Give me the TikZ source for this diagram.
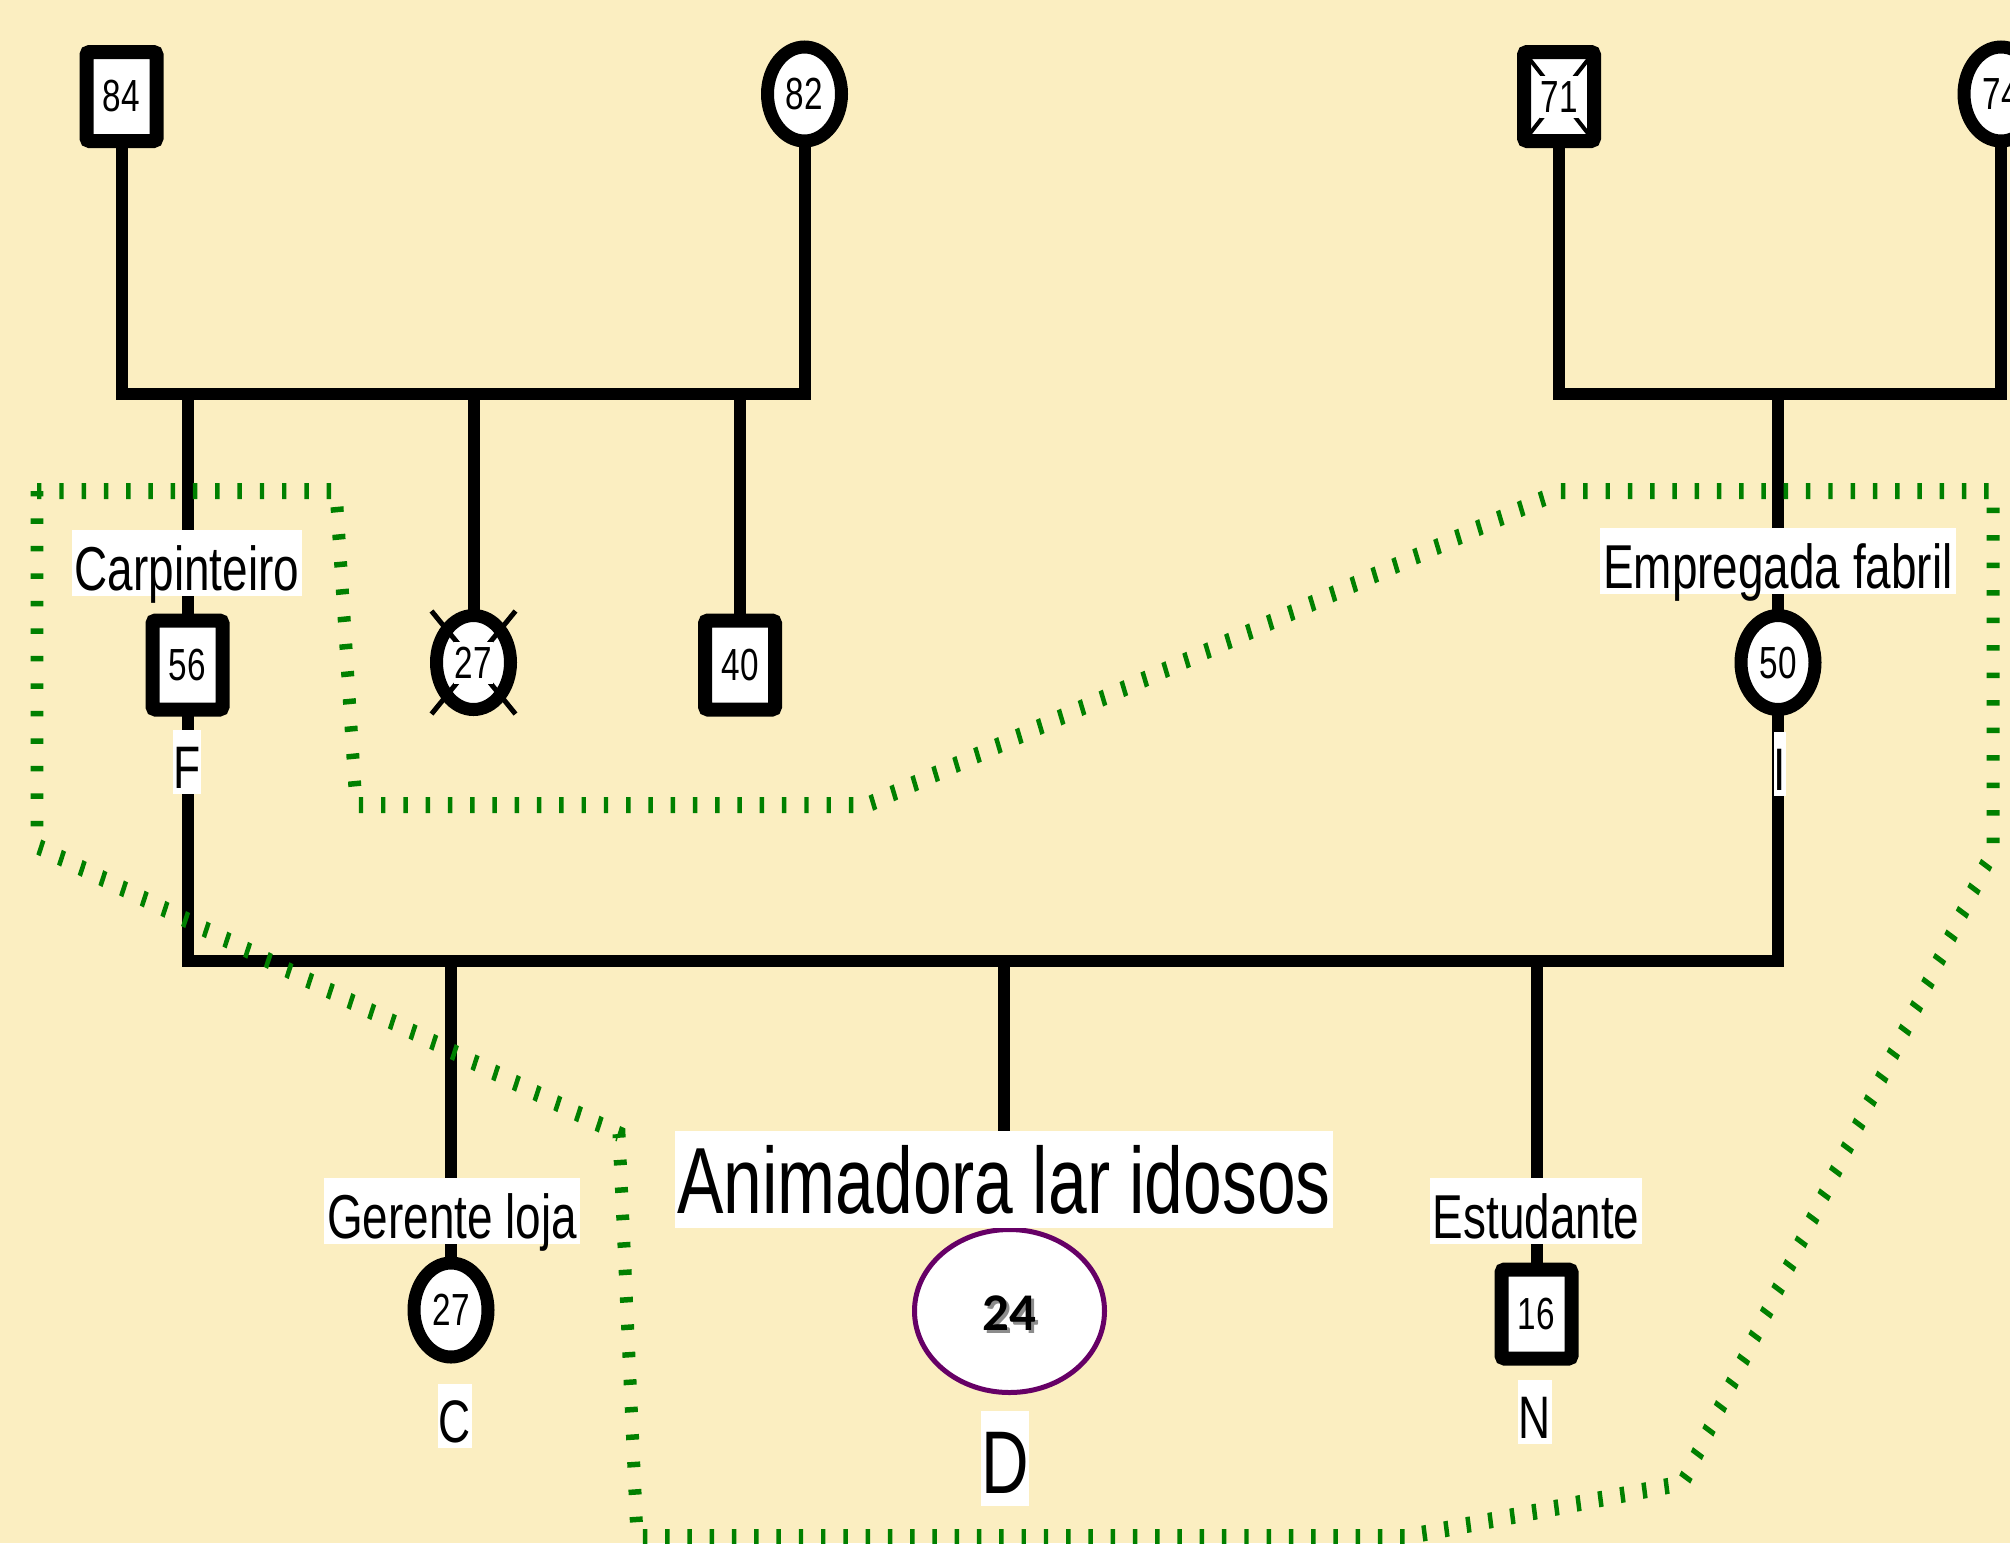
\documentclass[tikz,border=0pt]{standalone}
\usepackage{fontspec}
\setmainfont{Liberation Sans}
\newfontfamily\nf[FakeStretch=0.74]{Liberation Sans}
\newfontfamily\cf{Carlito}
\usetikzlibrary{shapes.geometric,backgrounds}
\definecolor{bgc}{RGB}{251,238,193}
\definecolor{hhgreen}{RGB}{0,128,0}
\definecolor{purp}{RGB}{102,0,102}
\begin{document}
\begin{tikzpicture}[x=1pt,y=-1pt,
  rel/.style={line width=12pt, line cap=rect, line join=miter},
  sq/.style={draw, fill=white, line width=14pt, rounded corners=3pt, minimum width=70pt, minimum height=89pt, inner sep=0pt, font=\nf\fontsize{45}{45}\selectfont},
  ci/.style={ellipse, draw, fill=white, line width=13pt, minimum width=74pt, minimum height=94pt, inner sep=0pt, font=\nf\fontsize{45}{45}\selectfont},
  num/.style={fill=white, inner sep=0pt, inner xsep=1pt, text height=37pt, text depth=5pt, font=\nf\fontsize{45}{45}\selectfont},
  xmark/.style={line width=5pt},
  lbl/.style={fill=white, inner sep=0pt, inner xsep=3pt, text height=60pt, text depth=6pt, anchor=base, font=\nf\fontsize{62}{62}\selectfont},
  letr/.style={fill=white, inner sep=0pt, inner xsep=0.5pt, text height=58pt, text depth=6pt, anchor=base, font=\nf\fontsize{60}{60}\selectfont},
  hh/.style={draw=hhgreen, line width=16pt, dash pattern=on 5.5pt off 22pt}
]
\useasboundingbox (0,0) rectangle (2010,1543);

% ---------- symbols ----------
\node[sq] (s84) at (121.5,96.5) {84};
\node[ci] (c82) at (804.5,94) {82};
\node[sq] (s71) at (1559,96.5) {};
\draw[xmark, line width=4pt] ([shift={(-35,-44.5)}]s71.center) -- ([shift={(35,44.5)}]s71.center);
\draw[xmark, line width=4pt] ([shift={(35,-44.5)}]s71.center) -- ([shift={(-35,44.5)}]s71.center);
\node[num] (t71) at (s71.center) {71};
\node[ci] (c74) at (2001,94) {74};

\node[sq] (s56) at (187.5,665) {56};
\node[ci] (c27a) at (473.5,662.5) {};
\draw[xmark] ([shift={(-42,-51.5)}]c27a.center) -- ([shift={(42,51.5)}]c27a.center);
\draw[xmark] ([shift={(42,-51.5)}]c27a.center) -- ([shift={(-42,51.5)}]c27a.center);
\node[num] (t27a) at (c27a.center) {27};
\node[sq] (s40) at (740,665) {40};
\node[ci] (c50) at (1778,662.5) {50};

\node[ci] (c27b) at (451,1310) {27};
\node[ellipse, draw=purp, fill=white, line width=5pt, minimum width=190pt, minimum height=163pt, inner sep=0pt] (e24) at (1009.5,1311) {};
\node[text=black!45, font=\cf\bfseries\fontsize{53}{53}\selectfont, anchor=base] (sh24) at (1012,1333) {24};
\node[font=\cf\bfseries\fontsize{53}{53}\selectfont, anchor=base] (t24) at (1009.5,1330) {24};
\node[sq] (s16) at (1536.5,1314) {16};

% ---------- labels ----------
\node[lbl] (lcarp) at (187,590) {Carpinteiro};
\node[lbl] (lemp) at (1778,588) {Empregada fabril};
\node[lbl] (lger) at (452,1238) {Gerente loja};
\node[lbl] (lest) at (1536,1238) {Estudante};
\node[lbl, text height=82pt, text depth=15pt, inner xsep=2pt, font=\nf\fontsize{94}{94}\selectfont] (lanim) at (1004,1213) {Animadora lar idosos};
\node[letr] (lF) at (187,788) {F};
\node[letr, inner xsep=0pt] (lI) at (1780,790) {I};
\node[letr] (lC) at (455,1442) {C};
\node[letr] (lN) at (1535,1438) {N};
\node[letr, text height=82pt, text depth=13pt, font=\nf\fontsize{89}{89}\selectfont] (lD) at (1005,1493) {D};

% ---------- relationship lines (behind) ----------
\coordinate (m1) at (464,394);
\coordinate (m3) at (1780,394);
\coordinate (m2) at (1000,961);
\begin{pgfonlayer}{background}
\fill[bgc] (0,0) rectangle (2010,1543);
\draw[rel] (s84.south) |- (m1) -| (c82.south);
\draw[rel] (s56.north) -- (s56.north |- m1);
\draw[rel] (c27a.north) -- (c27a.north |- m1);
\draw[rel] (s40.north) -- (s40.north |- m1);
\draw[rel] (s71.south) |- (m3) -| (c74.south);
\draw[rel] (c50.north) -- (c50.north |- m3);
\draw[rel] (s56.south) |- (m2) -| (c50.south);
\draw[rel] (c27b.north) -- (c27b.north |- m2);
\draw[rel] (lanim.north) -- (lanim.north |- m2);
\draw[rel] (s16.north) -- (s16.north |- m2);
\end{pgfonlayer}

% ---------- household boundary ----------
\begin{scope}[transform canvas={xscale=0.81}, x=1.234568pt]
\draw[hh] (37,491) -- (336,491) -- (356,805) -- (867,805) -- (1560,491) -- (1993,491)
  -- (1993,850) -- (1683,1483) -- (1405,1537) -- (637,1537) -- (619,1134) -- (37,846) -- cycle;
\end{scope}
\end{tikzpicture}
\end{document}
